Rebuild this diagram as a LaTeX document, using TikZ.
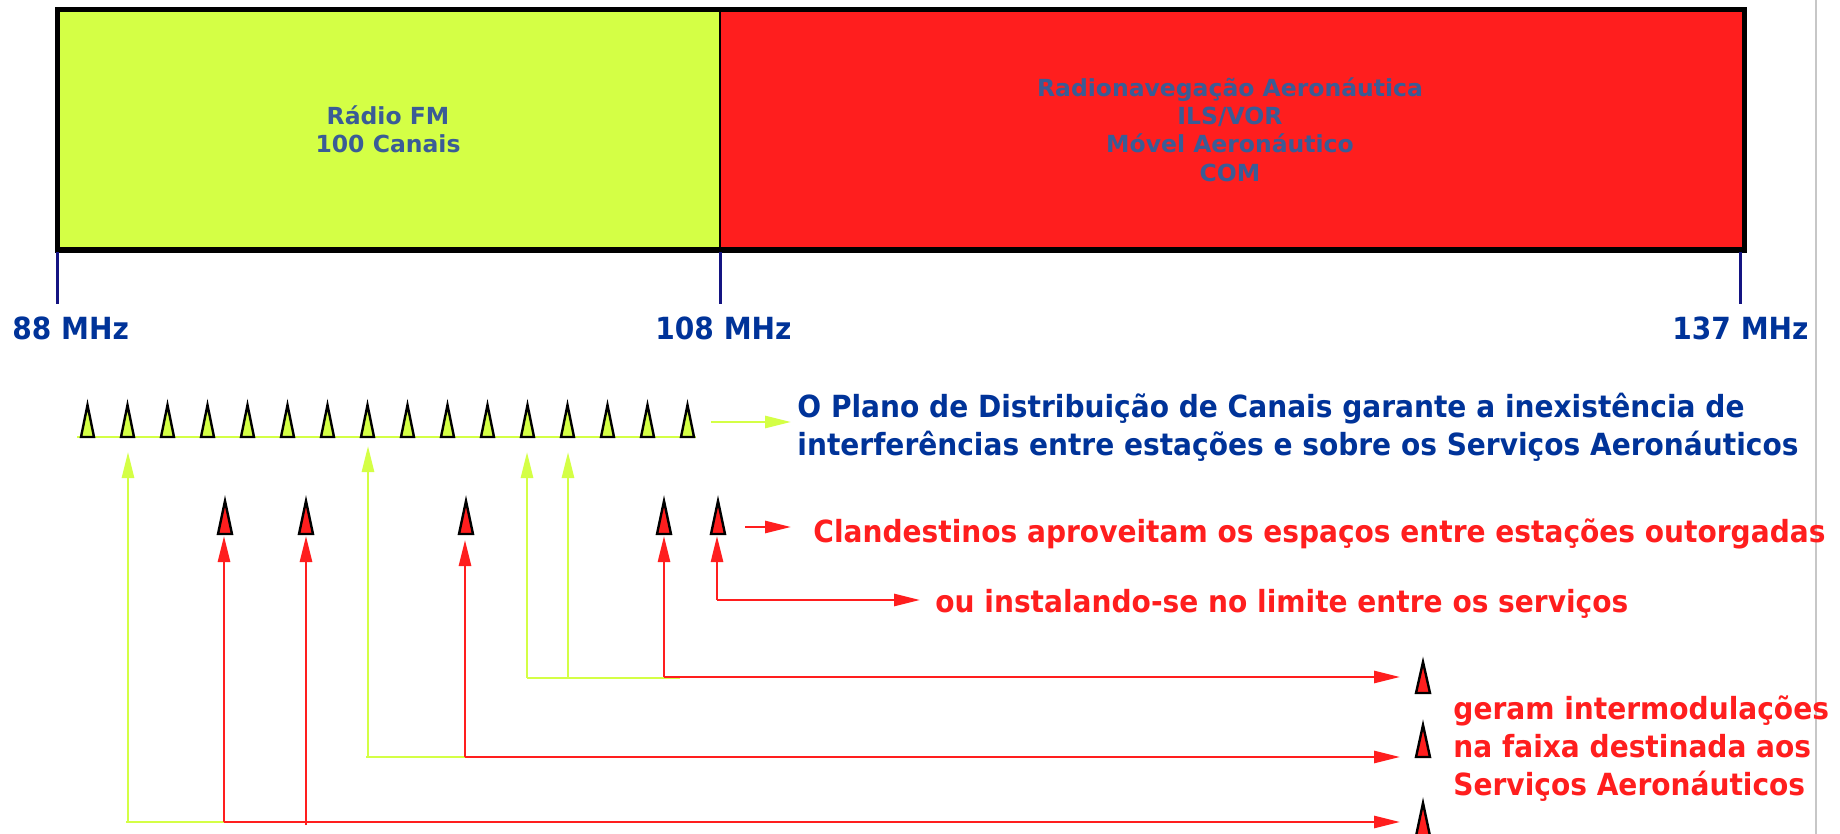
\documentclass[tikz,border=0pt]{standalone}
\usepackage{fontspec}
\setmainfont{DejaVu Sans}
\newfontfamily\bigf{DejaVu Sans}[FakeStretch=0.92]
\usetikzlibrary{arrows.meta}
\definecolor{fmgreen}{RGB}{212,255,69}
\definecolor{aered}{RGB}{255,30,30}
\definecolor{txtblue}{RGB}{0,51,153}
\definecolor{slate}{RGB}{58,92,150}
\definecolor{navy}{RGB}{20,20,130}
\begin{document}
\begin{tikzpicture}[x=0.5pt,y=-0.5pt,
  tri/.style={draw=black, line width=1.2pt, line join=miter},
  gline/.style={draw=fmgreen, line width=1.4pt},
  rline/.style={draw=aered, line width=1.3pt},
  garrow/.style={gline, -{Triangle[length=13pt,width=6pt]}},
  rarrow/.style={rline, -{Triangle[length=13pt,width=6pt]}},
  bigtxt/.style={font=\bigf\bfseries\fontsize{15.25}{19}\selectfont, inner sep=0pt, anchor=base west},
  bartxt/.style={font=\bfseries\fontsize{11.75}{14.25}\selectfont, text=slate, inner sep=0pt, anchor=base},
  tick/.style={draw=navy, line width=1.5pt}]
\useasboundingbox (0,0) rectangle (1840,834);
\fill[white] (0,0) rectangle (1840,834);
\draw[black!22, line width=1pt] (1816,0) -- (1816,834);
% spectrum bar
\coordinate (bNW) at (57,10);
\coordinate (bSW) at (57,250);
\coordinate (bN108) at (720,10);
\coordinate (bS108) at (720,250);
\coordinate (bNE) at (1744,10);
\coordinate (bSE) at (1744,250);
\fill[fmgreen] (bNW) rectangle (bS108);
\fill[aered] (bN108) rectangle (bSE);
\draw[black, line width=2.5pt] (bNW) rectangle (bSE);
\draw[black, line width=1pt] (bN108) -- (bS108);
\node[bartxt] (fm1) at (388,125) {Rádio FM};
\node[bartxt] (fm2) at (388,153) {100 Canais};
\node[bartxt] (ae1) at (1230,97) {Radionavegação Aeronáutica};
\node[bartxt] (ae2) at (1230,125) {ILS/VOR};
\node[bartxt] (ae3) at (1230,153) {Móvel Aeronáutico};
\node[bartxt] (ae4) at (1230,182) {COM};
% ticks
\coordinate (t88) at (57,304);
\coordinate (t108) at (720,304);
\coordinate (t137) at (1740,304);
\draw[tick] (57,252) -- (t88);
\draw[tick] (720,252) -- (t108);
\draw[tick] (1740,252) -- (t137);
\node[bigtxt, text=txtblue] (l88) at (12,339) {88 MHz};
\node[bigtxt, text=txtblue] (l108) at (655,339) {108 MHz};
\node[bigtxt, text=txtblue] (l137) at (1672,339) {137 MHz};
% FM channel row
\draw[gline] (77,437) -- (696,437);
\foreach \i in {0,...,15}{
  \pgfmathsetmacro{\xx}{87.5+40*\i}
  \draw[tri, fill=fmgreen] (\xx-6.5,437) -- (\xx,405) -- (\xx+6.5,437) -- cycle;
}
\coordinate (gaS) at (711,422);
\coordinate (gaE) at (791,422);
\draw[garrow] (gaS) -- (gaE);
\node[bigtxt, text=txtblue] (plano1) at (797,417) {O Plano de Distribuição de Canais garante a inexistência de};
\node[bigtxt, text=txtblue] (plano2) at (797,455) {interferências entre estações e sobre os Serviços Aeronáuticos};
% clandestine row
\foreach \xx in {225,306,466,664,718}{
  \draw[tri, fill=aered] (\xx-7,534) -- (\xx,501) -- (\xx+7,534) -- cycle;
}
\coordinate (raS) at (745,527);
\coordinate (raE) at (791,527);
\draw[rarrow] (raS) -- (raE);
\node[bigtxt, text=aered] (cland) at (813,542) {Clandestinos aproveitam os espaços entre estações outorgadas};
\node[bigtxt, text=aered] (limite) at (935,612) {ou instalando-se no limite entre os serviços};
% green feeders
\draw[gline] (126,822) -- (233,822);
\draw[gline] (366,757) -- (468,757);
\draw[gline] (527,678) -- (680,678);
\draw[garrow] (128,822) -- (128,452);
\draw[garrow] (368,757) -- (368,446);
\draw[garrow] (527,678) -- (527,452);
\draw[garrow] (568,678) -- (568,452);
% red feeders
\coordinate (i1) at (1400,677);
\coordinate (i2) at (1400,757);
\coordinate (i3) at (1400,822);
\draw[rarrow] (224,822) -- (224,536);
\draw[rarrow] (306,825) -- (306,536);
\draw[rarrow] (465,757) -- (465,540);
\draw[rarrow] (664,677) -- (664,536);
\draw[rarrow] (717,600) -- (717,536);
\draw[rarrow] (224,822) -- (i3);
\draw[rarrow] (465,757) -- (i2);
\draw[rarrow] (664,677) -- (i1);
\coordinate (limA) at (920,600);
\draw[rarrow] (717,600) -- (limA);
% intermodulation products
\draw[tri, fill=aered] (1416,693) -- (1423,662) -- (1430,693) -- cycle;
\draw[tri, fill=aered] (1416,757) -- (1423,725) -- (1430,757) -- cycle;
\draw[tri, fill=aered] (1416,836) -- (1423,803) -- (1430,836) -- cycle;
\node[bigtxt, text=aered] (im1) at (1453,719) {geram intermodulações};
\node[bigtxt, text=aered] (im2) at (1453,757) {na faixa destinada aos};
\node[bigtxt, text=aered] (im3) at (1453,795) {Serviços Aeronáuticos};
\end{tikzpicture}
\end{document}
